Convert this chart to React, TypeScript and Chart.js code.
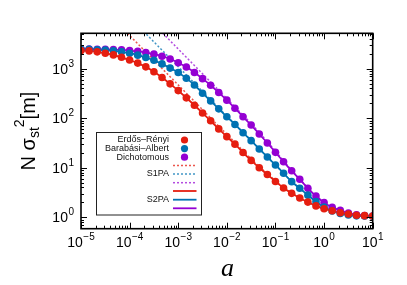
import React, { useEffect, useRef } from "react";
import { Chart, registerables } from "chart.js";
Chart.register(...registerables);

// noise parameter a (6 samples per decade)
const aValues = [
  1e-5, 1.468e-5, 2.154e-5, 3.162e-5, 4.642e-5, 6.813e-5,
  1e-4, 1.468e-4, 2.154e-4, 3.162e-4, 4.642e-4, 6.813e-4,
  1e-3, 1.468e-3, 2.154e-3, 3.162e-3, 4.642e-3, 6.813e-3,
  1e-2, 1.468e-2, 2.154e-2, 3.162e-2, 4.642e-2, 6.813e-2,
  1e-1, 1.468e-1, 2.154e-1, 3.162e-1, 4.642e-1, 6.813e-1,
  1, 1.468, 2.154, 3.162, 4.642, 6.813, 10,
];

// simulation points (also traced by the S2PA curves)
const erdosRenyi = [
  2330, 2290, 2190, 2060, 1900, 1700, 1500, 1300, 1090, 870, 665, 495,
  362, 258, 183, 128, 89, 61, 42.5, 30, 20.3, 14.1, 10.0, 7.3,
  5.3, 3.92, 3.05, 2.45, 2.03, 1.7, 1.49, 1.36, 1.24, 1.17, 1.1, 1.08, 1.06,
];
const barabasiAlbert = [
  2470, 2460, 2420, 2370, 2290, 2190, 2060, 1880, 1680, 1480, 1250, 1030,
  840, 640, 470, 320, 224, 155, 107, 75, 51, 35.3, 24, 16.5,
  11.4, 7.75, 5.25, 3.85, 2.8, 2.07, 1.62, 1.34, 1.19, 1.11, 1.07, 1.06, 1.05,
];
const dichotomous = [
  2500, 2490, 2480, 2460, 2440, 2400, 2330, 2240, 2120, 1970, 1790, 1570,
  1320, 1080, 840, 630, 465, 330, 232, 159, 107, 73, 48, 31.7,
  20.5, 13.2, 8.7, 5.85, 3.85, 2.69, 1.98, 1.59, 1.38, 1.22, 1.13, 1.08, 1.06,
];

// S1PA curves (dotted)
const s1paER = [
  null, null, null, null, 10100, 6900, 4700, 3200, 2180, 1490, 1010, 690,
  470, 320, 219, 149, 101, 69, 47.5, 32.5, 22, 15.1, 10.5, 7.6,
  5.5, 4.0, 3.07, 2.45, 2.03, 1.7, 1.49, 1.36, 1.24, 1.17, 1.1, 1.08, 1.06,
];
const s1paBA = [
  null, null, null, null, null, null, 11000, 7500, 5100, 3480, 2370, 1615,
  1100, 750, 510, 348, 237, 162, 110, 76, 52, 35.6, 24.2, 16.6,
  11.4, 7.75, 5.25, 3.85, 2.8, 2.07, 1.62, 1.34, 1.19, 1.11, 1.07, 1.06, 1.05,
];
const s1paDI = [
  null, null, null, null, null, null, null, null, 11600, 7900, 5390, 3670,
  2500, 1700, 1160, 790, 538, 367, 250, 170, 115, 78, 52, 34,
  21.8, 13.9, 8.9, 5.9, 3.88, 2.7, 1.98, 1.59, 1.38, 1.22, 1.13, 1.08, 1.06,
];

const xTickExps = ["−5", "−4", "−3", "−2", "−1", "0", "1"];
const yTickExps = ["0", "1", "2", "3"];
const legendNames = ["Erdős–Rényi", "Barabási–Albert", "Dichotomous"];

const RED = "#e51e10";
const BLUE = "#0072b2";
const PURPLE = "#9400d3";
const RED_L = "rgba(229,30,16,0.75)";
const BLUE_L = "rgba(0,114,178,0.75)";
const PURPLE_L = "rgba(148,0,211,0.7)";

const SANS = '"Liberation Sans", Arial, Helvetica, sans-serif';

function pts(vals: (number | null)[]) {
  return aValues.map((a, i) => ({ x: a, y: vals[i] }));
}

function drawPow(ctx: CanvasRenderingContext2D, exp: string, x: number, baseY: number, align: "center" | "right") {
  ctx.font = `14px ${SANS}`;
  const wb = ctx.measureText("10").width;
  ctx.font = `10px ${SANS}`;
  const we = ctx.measureText(exp).width;
  const total = wb + 0.5 + we;
  const x0 = align === "center" ? x - total / 2 : x - total;
  ctx.textAlign = "left";
  ctx.textBaseline = "alphabetic";
  ctx.font = `14px ${SANS}`;
  ctx.fillText("10", x0, baseY);
  ctx.font = `10px ${SANS}`;
  ctx.fillText(exp, x0 + wb + 0.5, baseY - 7);
}

const decor = {
  id: "decor",
  afterDatasetsDraw(chart: any) {
    const ctx: CanvasRenderingContext2D = chart.ctx;
    const { left, right, top, bottom } = chart.chartArea;
    const xs = chart.scales.x;
    const ys = chart.scales.y;
    ctx.save();
    ctx.strokeStyle = "#000";
    ctx.fillStyle = "#000";
    // ticks
    ctx.lineWidth = 1;
    ctx.beginPath();
    for (let d = -5; d <= 1; d++) {
      for (let m = 1; m <= 9; m++) {
        const v = m * Math.pow(10, d);
        if (v > 10.0001) break;
        const px = Math.round(xs.getPixelForValue(v)) + 0.5;
        const len = m === 1 ? 6 : 3;
        ctx.moveTo(px, bottom);
        ctx.lineTo(px, bottom - len);
        ctx.moveTo(px, top);
        ctx.lineTo(px, top + len);
      }
    }
    for (let d = -1; d <= 3; d++) {
      for (let m = 1; m <= 9; m++) {
        const v = m * Math.pow(10, d);
        if (v < ys.min || v > ys.max) continue;
        const py = Math.round(ys.getPixelForValue(v)) + 0.5;
        const len = m === 1 ? 6 : 3;
        ctx.moveTo(left, py);
        ctx.lineTo(left + len, py);
        ctx.moveTo(right, py);
        ctx.lineTo(right - len, py);
      }
    }
    ctx.stroke();
    // frame
    ctx.lineWidth = 1.6;
    ctx.strokeRect(left, top, right - left, bottom - top);

    // tick labels
    xTickExps.forEach((e, i) => {
      const px = xs.getPixelForValue(Math.pow(10, i - 5));
      drawPow(ctx, e, px, 247, "center");
    });
    yTickExps.forEach((e, i) => {
      const py = ys.getPixelForValue(Math.pow(10, i));
      drawPow(ctx, e, 74, py + 5, "right");
    });

    // x title
    ctx.font = `italic 26px "Liberation Serif", "Times New Roman", serif`;
    ctx.textAlign = "center";
    ctx.textBaseline = "alphabetic";
    ctx.fillText("a", 227.5, 276);

    // y title
    ctx.save();
    ctx.translate(35, 131);
    ctx.rotate(-Math.PI / 2);
    const big = `20px ${SANS}`;
    const small = `14px ${SANS}`;
    ctx.font = big;
    const w1 = ctx.measureText("N σ").width;
    const w4 = ctx.measureText("[m]").width;
    ctx.font = small;
    const w2 = ctx.measureText("st").width;
    const w3 = ctx.measureText("2").width;
    const total = w1 + w2 + w3 + w4;
    let x = -total / 2;
    ctx.textAlign = "left";
    ctx.font = big;
    ctx.fillText("N σ", x, 0);
    x += w1;
    ctx.font = small;
    ctx.fillText("st", x, 4);
    x += w2;
    ctx.fillText("2", x, -11);
    x += w3;
    ctx.font = big;
    ctx.fillText("[m]", x, 0);
    ctx.restore();

    // legend
    ctx.fillStyle = "#fff";
    ctx.fillRect(96.5, 132.5, 105, 82.5);
    ctx.strokeStyle = "#222";
    ctx.lineWidth = 1;
    ctx.strokeRect(96.5, 132.5, 105, 82.5);
    ctx.fillStyle = "#111";
    ctx.font = `9px ${SANS}`;
    ctx.textAlign = "right";
    ctx.textBaseline = "middle";
    const rowY = [140, 148.6, 157.2, 165.5, 174, 182.7, 191, 199.7, 208.3];
    const cols = [RED, BLUE, PURPLE];
    const colsL = [RED_L, BLUE_L, PURPLE_L];
    legendNames.forEach((n, i) => {
      ctx.fillStyle = "#111";
      ctx.fillText(n, 169, rowY[i]);
      ctx.fillStyle = cols[i];
      ctx.beginPath();
      ctx.arc(184.5, rowY[i], 3.6, 0, Math.PI * 2);
      ctx.fill();
    });
    ctx.fillStyle = "#111";
    ctx.fillText("S1PA", 169, rowY[4]);
    ctx.fillText("S2PA", 169, rowY[7]);
    for (let i = 0; i < 3; i++) {
      ctx.strokeStyle = colsL[i];
      ctx.lineWidth = 1.5;
      ctx.setLineDash([2, 2]);
      ctx.beginPath();
      ctx.moveTo(173, rowY[3 + i]);
      ctx.lineTo(196.5, rowY[3 + i]);
      ctx.stroke();
      ctx.setLineDash([]);
      ctx.strokeStyle = cols[i];
      ctx.lineWidth = 1.8;
      ctx.beginPath();
      ctx.moveTo(173, rowY[6 + i]);
      ctx.lineTo(196.5, rowY[6 + i]);
      ctx.stroke();
    }
    ctx.restore();
  },
};

export default function App() {
  const ref = useRef<HTMLCanvasElement>(null);
  useEffect(() => {
    if (!ref.current) return;
    const pointDs = (label: string, vals: number[], color: string) => ({
      label,
      data: pts(vals),
      showLine: false,
      pointRadius: 3.8,
      pointBorderWidth: 0,
      pointBackgroundColor: color,
      borderColor: color,
      order: 0,
    });
    const dotDs = (label: string, vals: (number | null)[], color: string) => ({
      label,
      data: pts(vals),
      borderColor: color,
      borderWidth: 1.5,
      borderDash: [2, 2],
      pointRadius: 0,
      cubicInterpolationMode: "monotone",
      order: 2,
    });
    const solidDs = (label: string, vals: number[], color: string) => ({
      label,
      data: pts(vals),
      borderColor: color,
      borderWidth: 1.8,
      pointRadius: 0,
      cubicInterpolationMode: "monotone",
      order: 1,
    });
    const chart = new Chart(ref.current, {
      type: "line",
      data: {
        datasets: [
          pointDs("Erdős–Rényi", erdosRenyi, RED),
          pointDs("Barabási–Albert", barabasiAlbert, BLUE),
          pointDs("Dichotomous", dichotomous, PURPLE),
          dotDs("S1PA ER", s1paER, RED_L),
          dotDs("S1PA BA", s1paBA, BLUE_L),
          dotDs("S1PA D", s1paDI, PURPLE_L),
          solidDs("S2PA ER", erdosRenyi, RED),
          solidDs("S2PA BA", barabasiAlbert, BLUE),
          solidDs("S2PA D", dichotomous, PURPLE),
        ] as any,
      },
      options: {
        animation: false,
        responsive: false,
        devicePixelRatio: 1,
        layout: { padding: { left: 81, right: 34.3, top: 33.3, bottom: 56.3 } },
        scales: {
          x: { type: "logarithmic", min: 1e-5, max: 10, display: false },
          y: { type: "logarithmic", min: 0.589, max: 5190, display: false },
        },
        plugins: { legend: { display: false }, tooltip: { enabled: false } },
      },
      plugins: [decor],
    });
    return () => chart.destroy();
  }, []);
  return (
    <div style={{ position: "fixed", left: 0, top: 0, width: 407, height: 285, background: "#fff" }}>
      <canvas ref={ref} width={407} height={285} style={{ display: "block" }} />
    </div>
  );
}
